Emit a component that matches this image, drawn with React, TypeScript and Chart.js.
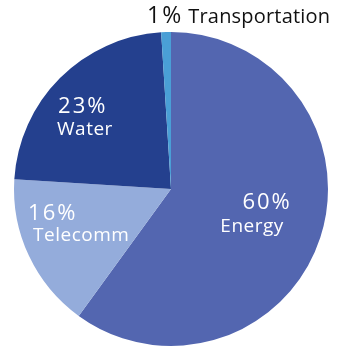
import React, { useEffect, useRef } from "react";
import { Chart, registerables } from "chart.js";

Chart.register(...registerables);

const categories = ["Energy", "Telecomm", "Water", "Transportation"];
const shares = [60, 16, 23, 1];
const sliceColors = ["#5366b0", "#94acdb", "#24408e", "#4a9fd6"];

const FONT = "'Open Sans', 'DejaVu Sans', sans-serif";

// label placement: radius fraction along mid-angle, plus text offsets
const labelPlacement = [
  { f: 0.59, align: "center", pdx: 8, pdy: -9, ndx: -7, ndy: 14 },
  { f: 0.64, align: "left", pdx: -52, pdy: -12, ndx: -47, ndy: 9 },
  { f: 0.72, align: "left", pdx: -33, pdy: 4, ndx: -34, ndy: 26 },
];

const labelPlugin = {
  id: "sliceLabels",
  afterDatasetsDraw(chart: any) {
    const ctx = chart.ctx;
    const meta = chart.getDatasetMeta(0);
    const data = chart.data.datasets[0].data as number[];
    const labels = chart.data.labels as string[];
    ctx.save();
    ctx.textBaseline = "alphabetic";
    meta.data.forEach((arc: any, i: number) => {
      const p = arc.getProps(["x", "y", "startAngle", "endAngle", "outerRadius"], true);
      const mid = (p.startAngle + p.endAngle) / 2;
      const pct = `${data[i]}%`;
      if (i < labelPlacement.length) {
        const lp = labelPlacement[i];
        const ax = p.x + Math.cos(mid) * p.outerRadius * lp.f;
        const ay = p.y + Math.sin(mid) * p.outerRadius * lp.f;
        ctx.fillStyle = "#ffffff";
        ctx.textAlign = lp.align as CanvasTextAlign;
        ctx.font = `22px ${FONT}`;
        ctx.letterSpacing = "2px";
        ctx.fillText(pct, ax + lp.pdx, ay + lp.pdy);
        ctx.letterSpacing = "0.5px";
        ctx.font = `19px ${FONT}`;
        ctx.fillText(labels[i], ax + lp.ndx, ay + lp.ndy);
        ctx.letterSpacing = "0px";
      } else {
        const ox = p.x + Math.cos(mid) * p.outerRadius;
        const oy = p.y + Math.sin(mid) * p.outerRadius;
        const left = ox - 19;
        const base = oy - 9;
        ctx.fillStyle = "#111111";
        ctx.textAlign = "left";
        ctx.font = `23px ${FONT}`;
        ctx.letterSpacing = "2px";
        ctx.fillText(pct, left, base);
        const w = ctx.measureText(pct).width;
        ctx.letterSpacing = "0.2px";
        ctx.font = `20px ${FONT}`;
        ctx.fillText(labels[i], left + w + 5, base);
        ctx.letterSpacing = "0px";
      }
    });
    ctx.restore();
  },
};

export default function App() {
  const ref = useRef<HTMLCanvasElement | null>(null);
  useEffect(() => {
    if (!ref.current) return;
    const chart = new Chart(ref.current, {
      type: "pie",
      data: {
        labels: categories,
        datasets: [
          {
            data: shares,
            backgroundColor: sliceColors,
            borderWidth: 0,
          },
        ],
      },
      options: {
        responsive: false,
        animation: false,
        layout: { padding: { left: 14, right: 9, top: 32, bottom: 5 } },
        plugins: {
          legend: { display: false },
          tooltip: { enabled: false },
          title: { display: false },
        },
      },
      plugins: [labelPlugin],
    });
    return () => chart.destroy();
  }, []);
  return (
    <div style={{ position: "fixed", left: 0, top: 0, width: 337, height: 351, background: "#fff" }}>
      <canvas ref={ref} width={337} height={351} style={{ width: 337, height: 351 }} />
    </div>
  );
}
